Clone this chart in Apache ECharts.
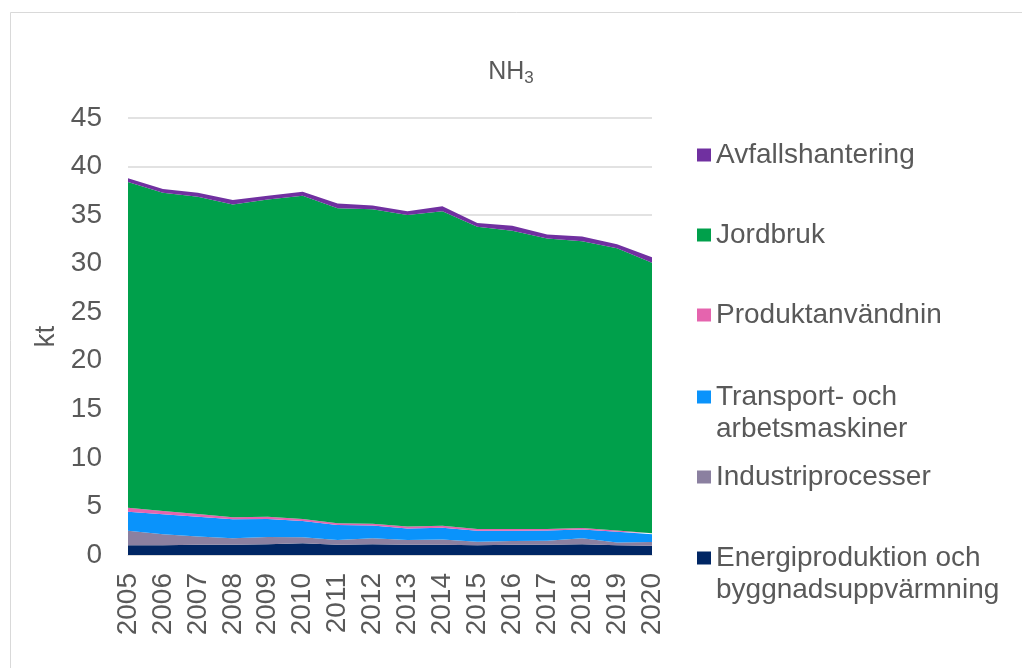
<!DOCTYPE html>
<html>
<head>
<meta charset="utf-8">
<script src="https://cdn.jsdelivr.net/npm/echarts@6/dist/echarts.min.js"></script>
<style>
  html, body { margin: 0; padding: 0; background: #fff; }
  #main { width: 1022px; height: 668px; }
</style>
</head>
<body>
<div id="main"></div>
<script>
// år
var years = ['2005', '2006', '2007', '2008', '2009', '2010', '2011', '2012',
  '2013', '2014', '2015', '2016', '2017', '2018', '2019', '2020']

// kt NH3 per sektor
var energi = [1.0, 1.0, 1.05, 1.05, 1.1, 1.2, 1.05, 1.1, 1.05, 1.05, 1.0, 1.05, 1.05, 1.1, 1.0, 0.95]
var industri = [1.5, 1.13, 0.85, 0.67, 0.75, 0.62, 0.49, 0.62, 0.49, 0.55, 0.37, 0.39, 0.42, 0.62, 0.3, 0.38]
var transport = [1.96, 2.07, 2.05, 1.95, 1.85, 1.68, 1.56, 1.33, 1.2, 1.2, 1.13, 1.06, 1.06, 0.91, 1.1, 0.8]
var produkt = [0.4, 0.33, 0.26, 0.23, 0.24, 0.2, 0.17, 0.16, 0.2, 0.2, 0.18, 0.17, 0.15, 0.14, 0.12, 0.12]
var jordbruk = [33.54, 32.77, 32.69, 32.2, 32.66, 33.3, 32.43, 32.39, 32.06, 32.4, 31.12, 30.73, 29.92, 29.53, 29.08, 27.85]
var avfall = [0.4, 0.4, 0.4, 0.45, 0.4, 0.4, 0.5, 0.4, 0.4, 0.5, 0.4, 0.5, 0.4, 0.5, 0.4, 0.55]

var yTicks = [0, 5, 10, 15, 20, 25, 30, 35, 40, 45]

var FONT = '"Liberation Sans", Arial, sans-serif'
var TXT = '#595959'

// serier nedifrån och upp
var seriesDefs = [
  { name: 'Energiproduktion och byggnadsuppvärmning', data: energi, color: '#002664' },
  { name: 'Industriprocesser', data: industri, color: '#8b80a0' },
  { name: 'Transport- och arbetsmaskiner', data: transport, color: '#0a93fb' },
  { name: 'Produktanvändnin', data: produkt, color: '#e564ae' },
  { name: 'Jordbruk', data: jordbruk, color: '#00a04b' },
  { name: 'Avfallshantering', data: avfall, color: '#7030a0' }
]

// legendrader: mitten av första textraden
var legendRows = [
  { name: 'Avfallshantering', y: 155, label: 'Avfallshantering' },
  { name: 'Jordbruk', y: 235, label: 'Jordbruk' },
  { name: 'Produktanvändnin', y: 315, label: 'Produktanvändnin' },
  { name: 'Transport- och arbetsmaskiner', y: 397, label: 'Transport- och\narbetsmaskiner' },
  { name: 'Industriprocesser', y: 477, label: 'Industriprocesser' },
  { name: 'Energiproduktion och byggnadsuppvärmning', y: 558, label: 'Energiproduktion och\nbyggnadsuppvärmning' }
]

var LH = 32
var legends = legendRows.map(function (r) {
  var twoLines = r.label.indexOf('\n') >= 0
  // tom första rad så att ikonen hamnar mitt för första textraden
  var txt = twoLines ? ' \n' + r.label : r.label
  return {
    data: [r.name],
    orient: 'vertical',
    left: 697,
    top: twoLines ? r.y - LH * 1.5 : r.y - LH / 2,
    padding: 0,
    itemWidth: 14,
    itemHeight: 13,
    icon: 'rect',
    selectedMode: false,
    formatter: function () { return txt },
    textStyle: {
      fontFamily: FONT,
      fontSize: 28,
      color: TXT,
      lineHeight: LH
    }
  }
})

var chart = echarts.init(document.getElementById('main'), null, { renderer: 'canvas' })

var option = {
  backgroundColor: '#fff',
  animation: false,
  title: {
    text: '{n|NH}{s|3}',
    left: 'center',
    top: 53,
    textStyle: {
      rich: {
        n: { fontFamily: FONT, fontSize: 25, fontWeight: 'normal', color: TXT },
        s: { fontFamily: FONT, fontSize: 17, fontWeight: 'normal', color: TXT, padding: [12, 0, 0, 0] }
      }
    }
  },
  legend: legends,
  grid: {
    left: 128,
    right: 370,
    top: 118,
    bottom: 113
  },
  xAxis: {
    type: 'category',
    data: years,
    boundaryGap: false,
    axisLine: { lineStyle: { color: '#d9d9d9' } },
    axisTick: { show: false },
    axisLabel: {
      rotate: 90,
      interval: 0,
      margin: 18,
      fontFamily: FONT,
      fontSize: 28,
      color: TXT
    }
  },
  yAxis: {
    type: 'value',
    min: 0,
    max: 45,
    interval: 5,
    name: 'kt',
    nameLocation: 'middle',
    nameGap: 68,
    nameTextStyle: { fontFamily: FONT, fontSize: 28, color: TXT },
    axisLine: { show: false },
    axisTick: { show: false },
    splitLine: { lineStyle: { color: '#d9d9d9', width: 1.5 } },
    axisLabel: {
      margin: 26,
      fontFamily: FONT,
      fontSize: 28,
      color: TXT,
      formatter: function (v) { return yTicks.indexOf(v) >= 0 ? String(v) : '' }
    }
  },
  graphic: [{
    type: 'rect',
    shape: { x: 10.5, y: 12.5, width: 1030, height: 680 },
    style: { fill: 'none', stroke: '#d9d9d9', lineWidth: 1 },
    silent: true
  }],
  series: seriesDefs.map(function (s) {
    return {
      name: s.name,
      type: 'line',
      stack: 'total',
      data: s.data,
      symbol: 'none',
      lineStyle: { width: 0 },
      itemStyle: { color: s.color },
      areaStyle: { color: s.color, opacity: 1 }
    }
  })
}

chart.setOption(option)
</script>
</body>
</html>
